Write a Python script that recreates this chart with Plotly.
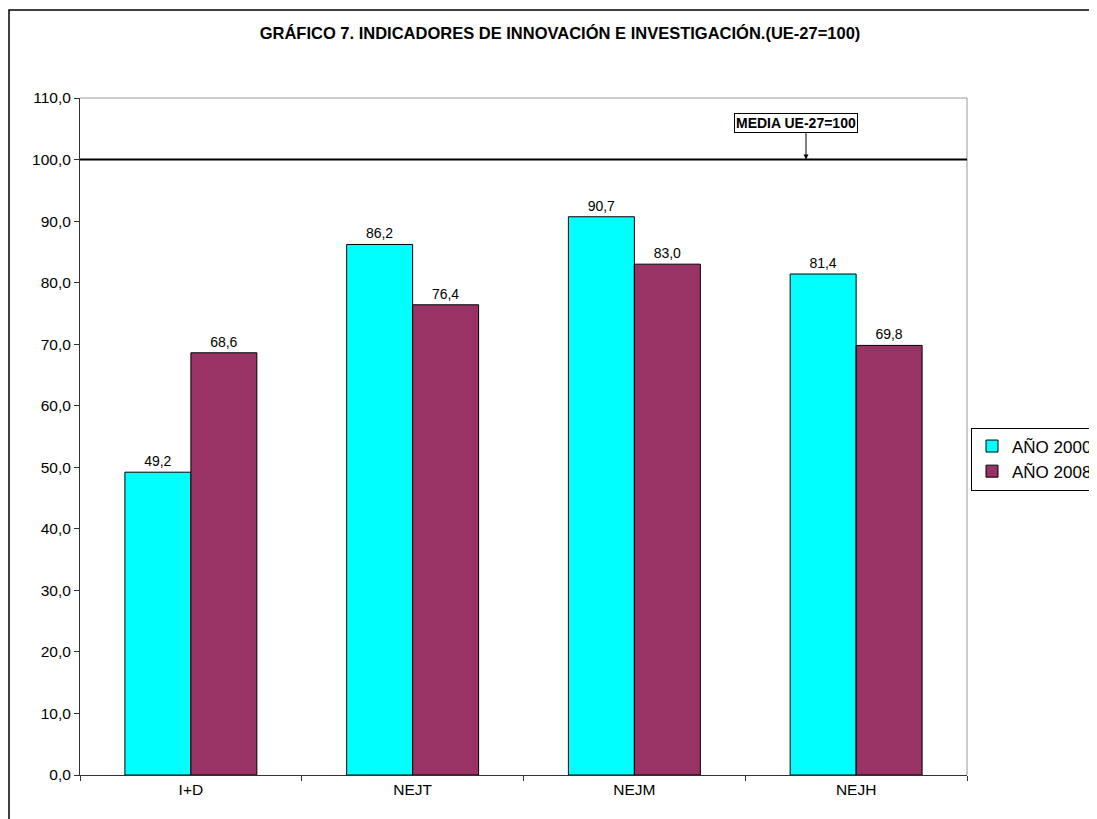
import plotly.graph_objects as go

categories = ["I+D", "NEJT", "NEJM", "NEJH"]
serie_2000 = [49.2, 86.2, 90.7, 81.4]
serie_2008 = [68.6, 76.4, 83.0, 69.8]
names = ["AÑO 2000", "AÑO 2008"]
media_ue = 100
title = "GRÁFICO 7. INDICADORES DE INNOVACIÓN E INVESTIGACIÓN.(UE-27=100)"

OFF = 8  # page body margin
W, H = 1097 - OFF, 819 - OFF
L, R, T, B = 80 - OFF, 130, 98 - OFF, 44
pw, ph = W - L - R, H - T - B

def fmt(v):
    return f"{v:.1f}".replace(".", ",")

fig = go.Figure()
for vals, name, col in [(serie_2000, names[0], "#00FFFF"), (serie_2008, names[1], "#993366")]:
    fig.add_trace(go.Bar(
        x=categories, y=vals, name=name,
        marker=dict(color=col, line=dict(color="black", width=1)),
        text=[fmt(v) for v in vals], textposition="outside",
        textfont=dict(size=14, color="black"), cliponaxis=False,
    ))

fig.update_layout(
    width=W, height=H,
    margin=dict(l=L, r=R, t=T, b=B, autoexpand=False),
    paper_bgcolor="white", plot_bgcolor="white",
    font=dict(family="Liberation Sans, Arial", size=15, color="black"),
    separators=",.",
    barmode="group", bargap=0.405, bargroupgap=0,
    title=dict(text="<b>" + title + "</b>", x=(560 - OFF) / W, xanchor="center",
               y=1 - (33 - OFF) / H, yanchor="middle", font=dict(size=16.5)),
    legend=dict(x=(971 - 80) / pw, y=(775 - 459) / ph, xanchor="left", yanchor="middle",
                bordercolor="black", borderwidth=1, font=dict(size=17),
                bgcolor="white", itemwidth=30, tracegroupgap=0),
    showlegend=True,
)
fig.update_yaxes(range=[0, 110], dtick=10, tickformat=".1f", showgrid=False,
                 showline=True, linecolor="#333", linewidth=1, ticks="outside",
                 ticklen=5, tickcolor="#333", zeroline=False, mirror=False,
                 tickfont=dict(size=15.5))
fig.update_xaxes(showgrid=False, showline=True, linecolor="#333", linewidth=1,
                 ticks="outside", ticklen=5, tickcolor="#333", tickson="boundaries",
                 tickfont=dict(size=15.5))

# plot area border (top and right, gray)
fig.add_shape(type="line", xref="paper", yref="paper", x0=0, x1=1, y0=1, y1=1,
              line=dict(color="#999", width=1))
fig.add_shape(type="line", xref="paper", yref="paper", x0=1, x1=1, y0=0, y1=1,
              line=dict(color="#999", width=1))
# outer chart frame
fig.add_shape(type="rect", xref="paper", yref="paper",
              x0=(1 - L) / pw, x1=(W + 10 - L) / pw,
              y0=-(B + 10) / ph, y1=1 + (T - 2) / ph,
              line=dict(color="black", width=1.5), layer="below")
# media line
fig.add_shape(type="line", xref="paper", yref="y", x0=0, x1=1, y0=media_ue, y1=media_ue,
              line=dict(color="black", width=2))
arrow_x = (806 - 80) / pw
fig.add_annotation(xref="paper", yref="y", x=arrow_x, y=media_ue, text="",
                   showarrow=True, arrowhead=2, arrowsize=1, arrowwidth=1,
                   arrowcolor="black", ax=0, ay=-28)
fig.add_annotation(xref="paper", yref="y", x=arrow_x, y=media_ue,
                   xanchor="center", yanchor="middle",
                   text="<b>MEDIA UE-27=100</b>", showarrow=False,
                   xshift=-10, yshift=37, font=dict(size=14, color="black"),
                   bordercolor="black", borderwidth=1, borderpad=1, bgcolor="white")

fig.write_html("out.html")
